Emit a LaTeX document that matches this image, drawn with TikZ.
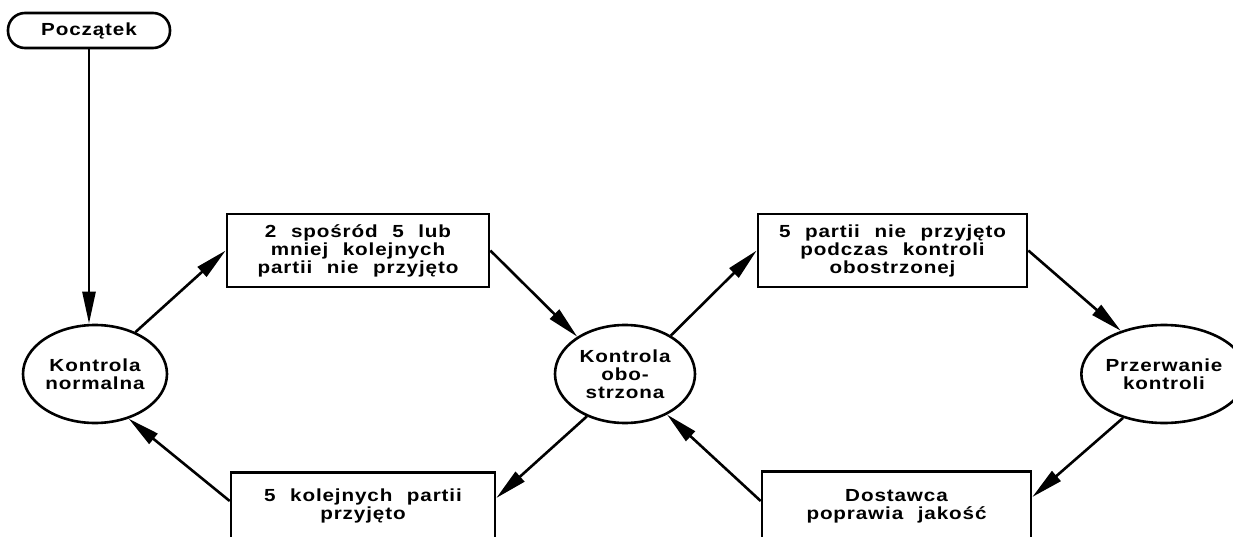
\documentclass[tikz,border=0pt]{standalone}
\usepackage{fontspec}
\setmainfont{Liberation Sans}[LetterSpace=5, FakeStretch=1.18, WordSpace=2.2]
\usetikzlibrary{arrows.meta,shapes.geometric,calc}
\begin{document}
\begin{tikzpicture}[x=1pt,y=-1pt,
  every node/.style={font=\bfseries\fontsize{17.5}{18}\selectfont, align=center, line width=2.6pt},
  ell/.style={draw, ellipse, inner sep=0pt},
  boxa/.style={draw, rectangle, inner sep=0pt},
  txt/.style={inner sep=0pt},
  conn/.style={line width=2.6pt, -{Triangle[length=32pt,width=13pt]}},
  startbox/.style={draw, rectangle, rounded corners=17pt, minimum width=162pt, minimum height=35pt, inner sep=0pt}
]
\useasboundingbox (0,0) rectangle (1233,537);
\clip (0,0) rectangle (1233,537);
\fill[white] (0,0) rectangle (1233,537);

\node[startbox] (poc) at (89,30.5) {Początek};
\node[ell, minimum width=144pt, minimum height=98pt] (kn) at (95,374) {Kontrola\\normalna};
\node[ell, minimum width=140pt, minimum height=98pt] (ko) at (625,374) {Kontrola\\obo-\\strzona};
\node[ell, minimum width=136pt, minimum height=98pt] (pk) at (1164,374) {Przerwanie\\kontroli};

\node[boxa, minimum width=262pt, minimum height=73pt] (b1) at (358,250.5) {2 spośród 5 lub\\mniej kolejnych\\partii nie przyjęto};
\node[boxa, minimum width=269pt, minimum height=73pt] (b2) at (892.5,250.5) {5 partii nie przyjęto\\podczas kontroli\\obostrzonej};

\node[boxa, minimum width=264pt, minimum height=100pt, anchor=north] (bb1) at (363,471) {};
\node[txt] (bb1t) at ($(bb1.north)+(0,35)$) {5 kolejnych partii\\przyjęto};
\node[boxa, minimum width=269pt, minimum height=100pt, anchor=north] (bb2) at (896.5,470) {};
\node[txt] (bb2t) at ($(bb2.north)+(0,36)$) {Dostawca\\poprawia jakość};

\draw[conn] (poc.south) -- (poc.south |- kn.north);
\draw[conn] (kn.46) -- (b1.west);
\draw[conn] (b1.east) -- (ko.142);
\draw[conn] (ko.40) -- (b2.west);
\draw[conn] (b2.east) -- (pk.135);
\draw[conn] (pk.227) -- ($(bb2.north east)+(0,27)$);
\draw[conn] ($(bb2.north west)+(0,31)$) -- (ko.-44);
\draw[conn] (ko.228) -- ($(bb1.north east)+(0,27)$);
\draw[conn] ($(bb1.north west)+(0,30)$) -- (kn.-53);
\end{tikzpicture}
\end{document}
